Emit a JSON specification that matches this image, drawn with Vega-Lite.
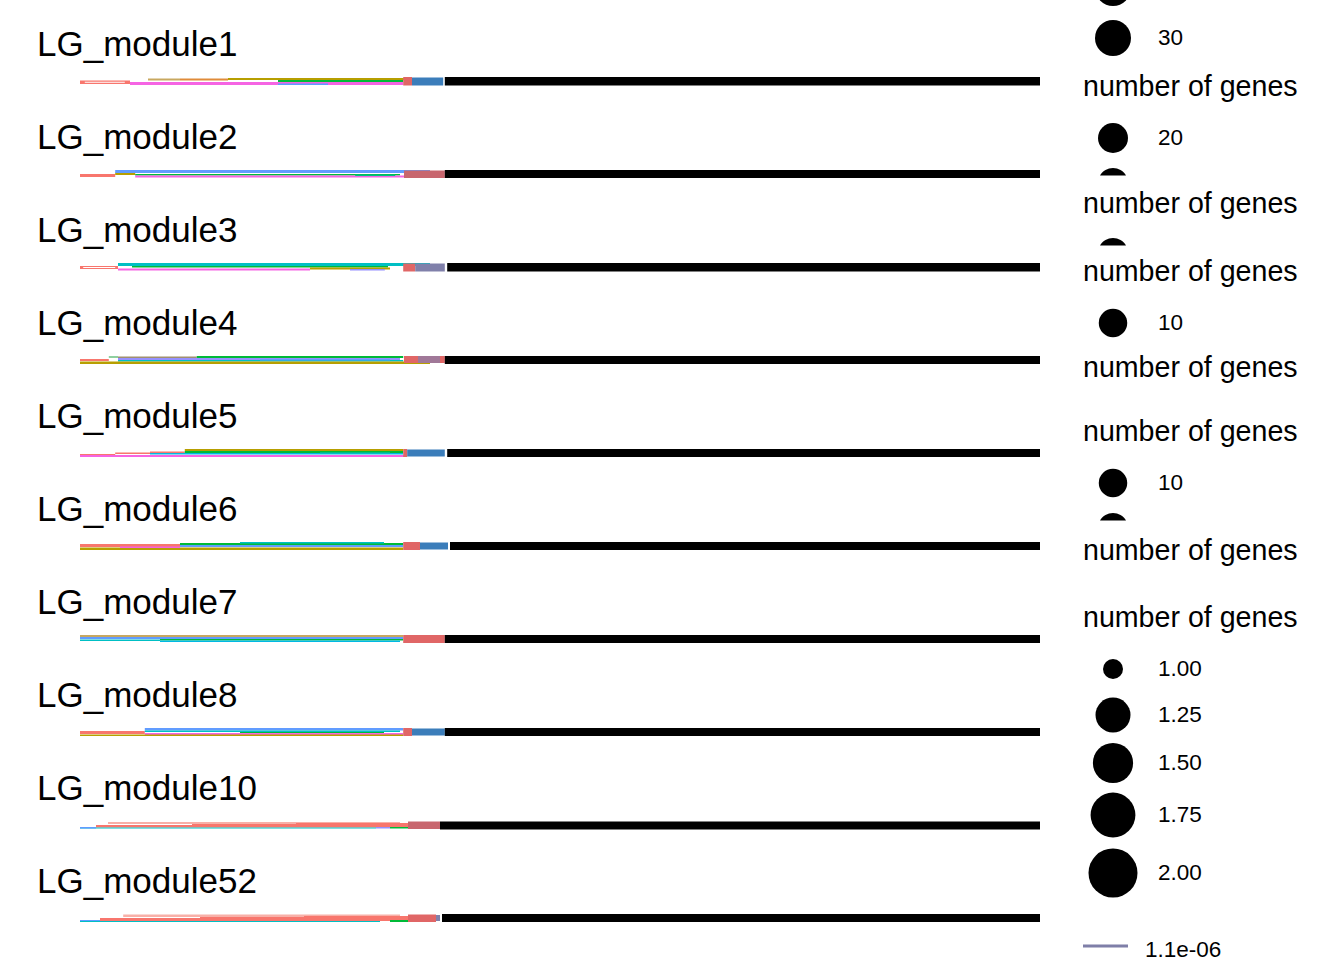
{
  "$schema": "https://vega.github.io/schema/vega-lite/v6.json",
  "padding": {"left": 37, "top": 0, "right": 0, "bottom": 0},
  "background": "white",
  "config": {
    "view": {"stroke": null},
    "font": "Liberation Sans",
    "text": {"font": "Liberation Sans"}
  },
  "datasets": {
    "strips": [
      {"m": "LG_module1", "a": 0, "b": 6.25, "t": 4.5, "u": 8, "g": "salmon"},
      {"m": "LG_module1", "a": 0.6, "b": 5.6, "t": 5.8, "u": 6.8, "g": "white"},
      {"m": "LG_module1", "a": 8.5, "b": 12.5, "t": 2.5, "u": 4.5, "g": "tan"},
      {"m": "LG_module1", "a": 12.5, "b": 18.5, "t": 2.5, "u": 4.5, "g": "orange"},
      {"m": "LG_module1", "a": 18.5, "b": 43.5, "t": 2, "u": 4, "g": "olive"},
      {"m": "LG_module1", "a": 24.75, "b": 40.4, "t": 4, "u": 6, "g": "green"},
      {"m": "LG_module1", "a": 6.25, "b": 40.4, "t": 6, "u": 9, "g": "magenta"},
      {"m": "LG_module1", "a": 24.75, "b": 31, "t": 7.5, "u": 9, "g": "blue"},
      {"m": "LG_module1", "a": 40.4, "b": 41.5, "t": 1, "u": 9.5, "g": "red"},
      {"m": "LG_module1", "a": 41.5, "b": 45.4, "t": 1.5, "u": 9.5, "g": "steel"},
      {"m": "LG_module1", "a": 45.6, "b": 120, "t": 1, "u": 9.5, "g": "black"},

      {"m": "LG_module2", "a": 0, "b": 4.4, "t": 5, "u": 8, "g": "salmon"},
      {"m": "LG_module2", "a": 4.4, "b": 6.9, "t": 3.5, "u": 6, "g": "olive"},
      {"m": "LG_module2", "a": 4.4, "b": 43.75, "t": 1, "u": 4, "g": "blue"},
      {"m": "LG_module2", "a": 6.9, "b": 40, "t": 5, "u": 6.5, "g": "green"},
      {"m": "LG_module2", "a": 6.9, "b": 40.5, "t": 6.5, "u": 8.5, "g": "magenta"},
      {"m": "LG_module2", "a": 34.4, "b": 39.4, "t": 5.5, "u": 7, "g": "tealgreen"},
      {"m": "LG_module2", "a": 40.5, "b": 45.6, "t": 1.5, "u": 9, "g": "mauve"},
      {"m": "LG_module2", "a": 45.6, "b": 120, "t": 1, "u": 9, "g": "black"},

      {"m": "LG_module3", "a": 0, "b": 4.75, "t": 4, "u": 7, "g": "salmon"},
      {"m": "LG_module3", "a": 0.4, "b": 4.4, "t": 5, "u": 6, "g": "white"},
      {"m": "LG_module3", "a": 4.75, "b": 43.75, "t": 1, "u": 4, "g": "teal"},
      {"m": "LG_module3", "a": 6.5, "b": 38.5, "t": 4, "u": 5.5, "g": "green"},
      {"m": "LG_module3", "a": 28.75, "b": 38.75, "t": 5.5, "u": 7.5, "g": "olive"},
      {"m": "LG_module3", "a": 33.75, "b": 38.1, "t": 7, "u": 8.5, "g": "lavender"},
      {"m": "LG_module3", "a": 4.75, "b": 28.75, "t": 6.5, "u": 8.5, "g": "magenta"},
      {"m": "LG_module3", "a": 40.4, "b": 41.9, "t": 1.5, "u": 9.5, "g": "red"},
      {"m": "LG_module3", "a": 41.9, "b": 45.6, "t": 1.5, "u": 9.5, "g": "slate"},
      {"m": "LG_module3", "a": 45.9, "b": 120, "t": 1, "u": 9.5, "g": "black"},

      {"m": "LG_module4", "a": 0, "b": 3.6, "t": 4, "u": 6, "g": "salmon"},
      {"m": "LG_module4", "a": 3.6, "b": 4.75, "t": 1, "u": 3, "g": "lightgreen"},
      {"m": "LG_module4", "a": 4.75, "b": 14.6, "t": 1.5, "u": 3, "g": "grayolive"},
      {"m": "LG_module4", "a": 14.6, "b": 40.4, "t": 1, "u": 3, "g": "green"},
      {"m": "LG_module4", "a": 4.75, "b": 40, "t": 3, "u": 5, "g": "lavender"},
      {"m": "LG_module4", "a": 4.75, "b": 40.4, "t": 5, "u": 6.5, "g": "teal"},
      {"m": "LG_module4", "a": 22.5, "b": 38.75, "t": 4, "u": 5.5, "g": "blue"},
      {"m": "LG_module4", "a": 0, "b": 43.75, "t": 6.5, "u": 9, "g": "olive"},
      {"m": "LG_module4", "a": 40.5, "b": 42.25, "t": 1, "u": 8, "g": "red"},
      {"m": "LG_module4", "a": 42.25, "b": 45, "t": 1, "u": 8, "g": "mauvepurple"},
      {"m": "LG_module4", "a": 45, "b": 45.6, "t": 1, "u": 8, "g": "red"},
      {"m": "LG_module4", "a": 45.6, "b": 120, "t": 1, "u": 9, "g": "black"},

      {"m": "LG_module5", "a": 0, "b": 4.4, "t": 6, "u": 7.5, "g": "salmon"},
      {"m": "LG_module5", "a": 4.4, "b": 8.75, "t": 4.5, "u": 6, "g": "salmon"},
      {"m": "LG_module5", "a": 8.75, "b": 13.1, "t": 3.5, "u": 5, "g": "salmon"},
      {"m": "LG_module5", "a": 13.1, "b": 40.4, "t": 1, "u": 3, "g": "olive"},
      {"m": "LG_module5", "a": 13.1, "b": 40.4, "t": 3, "u": 5, "g": "green"},
      {"m": "LG_module5", "a": 8.75, "b": 40.4, "t": 5, "u": 6.5, "g": "cyan"},
      {"m": "LG_module5", "a": 30, "b": 38.75, "t": 4.5, "u": 6, "g": "teal"},
      {"m": "LG_module5", "a": 0, "b": 40.6, "t": 7, "u": 9, "g": "magenta"},
      {"m": "LG_module5", "a": 40.4, "b": 40.9, "t": 1, "u": 9, "g": "red"},
      {"m": "LG_module5", "a": 40.9, "b": 45.6, "t": 1.5, "u": 8.5, "g": "steel"},
      {"m": "LG_module5", "a": 45.9, "b": 120, "t": 1, "u": 9, "g": "black"},

      {"m": "LG_module6", "a": 0, "b": 12.5, "t": 3, "u": 6, "g": "salmon"},
      {"m": "LG_module6", "a": 0, "b": 40.4, "t": 6.5, "u": 9, "g": "olive"},
      {"m": "LG_module6", "a": 12.5, "b": 40.4, "t": 2, "u": 4, "g": "green"},
      {"m": "LG_module6", "a": 12.5, "b": 40.4, "t": 4, "u": 6, "g": "blue"},
      {"m": "LG_module6", "a": 5, "b": 12.5, "t": 5.5, "u": 7, "g": "magenta"},
      {"m": "LG_module6", "a": 20, "b": 38, "t": 1, "u": 2.5, "g": "teal"},
      {"m": "LG_module6", "a": 40.4, "b": 42.5, "t": 1, "u": 9, "g": "red"},
      {"m": "LG_module6", "a": 42.5, "b": 46, "t": 1.5, "u": 8.5, "g": "steel"},
      {"m": "LG_module6", "a": 46.25, "b": 120, "t": 1, "u": 9, "g": "black"},

      {"m": "LG_module7", "a": 0, "b": 40.4, "t": 1, "u": 3, "g": "tan"},
      {"m": "LG_module7", "a": 0, "b": 40.4, "t": 3, "u": 5, "g": "blue"},
      {"m": "LG_module7", "a": 10, "b": 40.4, "t": 5, "u": 6.5, "g": "green"},
      {"m": "LG_module7", "a": 0, "b": 10, "t": 5.5, "u": 7, "g": "teal"},
      {"m": "LG_module7", "a": 10, "b": 40, "t": 6.5, "u": 8, "g": "cyan"},
      {"m": "LG_module7", "a": 40.4, "b": 45.6, "t": 1, "u": 9, "g": "red"},
      {"m": "LG_module7", "a": 45.6, "b": 120, "t": 1, "u": 9, "g": "black"},

      {"m": "LG_module8", "a": 0, "b": 8.1, "t": 4, "u": 7, "g": "salmon"},
      {"m": "LG_module8", "a": 8.1, "b": 40.4, "t": 6, "u": 8, "g": "magenta"},
      {"m": "LG_module8", "a": 8.1, "b": 40.4, "t": 1, "u": 3.5, "g": "blue"},
      {"m": "LG_module8", "a": 8.1, "b": 40, "t": 3.5, "u": 5, "g": "teal"},
      {"m": "LG_module8", "a": 20, "b": 38, "t": 5, "u": 6, "g": "green"},
      {"m": "LG_module8", "a": 0, "b": 40.4, "t": 7.5, "u": 9, "g": "olive"},
      {"m": "LG_module8", "a": 40.4, "b": 41.5, "t": 1, "u": 9, "g": "red"},
      {"m": "LG_module8", "a": 41.5, "b": 45.6, "t": 1.5, "u": 8.5, "g": "steel"},
      {"m": "LG_module8", "a": 45.6, "b": 120, "t": 1, "u": 9, "g": "black"},

      {"m": "LG_module10", "a": 3.5, "b": 40, "t": 2, "u": 4, "g": "lightsalmon"},
      {"m": "LG_module10", "a": 2, "b": 14, "t": 5, "u": 7.5, "g": "salmon"},
      {"m": "LG_module10", "a": 14, "b": 27, "t": 4, "u": 7.5, "g": "salmon"},
      {"m": "LG_module10", "a": 27, "b": 41, "t": 3, "u": 7.5, "g": "salmon"},
      {"m": "LG_module10", "a": 0, "b": 37, "t": 7.5, "u": 8.5, "g": "teal"},
      {"m": "LG_module10", "a": 0, "b": 2, "t": 7, "u": 8.5, "g": "blue"},
      {"m": "LG_module10", "a": 37, "b": 38.75, "t": 7, "u": 8.5, "g": "lavender"},
      {"m": "LG_module10", "a": 38.75, "b": 41, "t": 7, "u": 8.5, "g": "green"},
      {"m": "LG_module10", "a": 41, "b": 45, "t": 1.5, "u": 9, "g": "mauve"},
      {"m": "LG_module10", "a": 45, "b": 120, "t": 1.5, "u": 9.5, "g": "black"},

      {"m": "LG_module52", "a": 5.4, "b": 40, "t": 1.5, "u": 4, "g": "lightsalmon"},
      {"m": "LG_module52", "a": 2.5, "b": 15, "t": 5, "u": 8, "g": "salmon"},
      {"m": "LG_module52", "a": 15, "b": 28, "t": 4, "u": 8, "g": "salmon"},
      {"m": "LG_module52", "a": 28, "b": 41, "t": 3, "u": 8, "g": "salmon"},
      {"m": "LG_module52", "a": 0, "b": 2.5, "t": 7, "u": 8.5, "g": "blue"},
      {"m": "LG_module52", "a": 0, "b": 37.5, "t": 8, "u": 9, "g": "teal"},
      {"m": "LG_module52", "a": 38.75, "b": 41, "t": 7, "u": 9, "g": "green"},
      {"m": "LG_module52", "a": 41, "b": 44.5, "t": 1.5, "u": 9, "g": "red"},
      {"m": "LG_module52", "a": 44.5, "b": 45, "t": 2, "u": 8, "g": "slate"},
      {"m": "LG_module52", "a": 45.25, "b": 120, "t": 1, "u": 9, "g": "black"}
    ],
    "legend": [
      {"kind": "title", "text": "number of genes", "pos": 87},
      {"kind": "title", "text": "number of genes", "pos": 204},
      {"kind": "title", "text": "number of genes", "pos": 272},
      {"kind": "title", "text": "number of genes", "pos": 368},
      {"kind": "title", "text": "number of genes", "pos": 432},
      {"kind": "title", "text": "number of genes", "pos": 551},
      {"kind": "title", "text": "number of genes", "pos": 618},
      {"kind": "keyA", "genes": 30, "pos": -12},
      {"kind": "keyA", "genes": 30, "text": "30", "pos": 38},
      {"kind": "keyA", "genes": 20, "text": "20", "pos": 138},
      {"kind": "keyA", "genes": 10, "text": "10", "pos": 323},
      {"kind": "keyA", "genes": 10, "text": "10", "pos": 483},
      {"kind": "cap", "pos": 183},
      {"kind": "cap", "pos": 253},
      {"kind": "cap", "pos": 528},
      {"kind": "keyB", "genes": 1.0, "text": "1.00", "pos": 669},
      {"kind": "keyB", "genes": 1.25, "text": "1.25", "pos": 715},
      {"kind": "keyB", "genes": 1.5, "text": "1.50", "pos": 763},
      {"kind": "keyB", "genes": 1.75, "text": "1.75", "pos": 815},
      {"kind": "keyB", "genes": 2.0, "text": "2.00", "pos": 873},
      {"kind": "line", "text": "1.1e-06", "pos": 946}
    ]
  },
  "hconcat": [
    {
      "data": {"name": "strips"},
      "facet": {
        "row": {
          "field": "m",
          "type": "nominal",
          "title": null,
          "header": null,
          "sort": ["LG_module1", "LG_module2", "LG_module3", "LG_module4", "LG_module5", "LG_module6", "LG_module7", "LG_module8", "LG_module10", "LG_module52"]
        }
      },
      "spacing": {"row": 0},
      "spec": {
        "width": 1003,
        "height": 92.2,
        "layer": [
          {
            "mark": {"type": "rect"},
            "encoding": {
              "x": {"field": "a", "type": "quantitative", "scale": {"domain": [-5.375, 120], "nice": false, "zero": false}, "axis": null},
              "x2": {"field": "b"},
              "y": {"field": "t", "type": "quantitative", "scale": {"domain": [-76, 16.2], "reverse": true, "nice": false, "zero": false}, "axis": null},
              "y2": {"field": "u"},
              "color": {
                "field": "g",
                "type": "nominal",
                "legend": null,
                "scale": {
                  "domain": ["salmon", "white", "tan", "orange", "olive", "green", "magenta", "blue", "red", "steel", "black", "mauve", "teal", "lavender", "slate", "lightgreen", "grayolive", "cyan", "tealgreen", "lightsalmon", "mauvepurple"],
                  "range": ["#F8766D", "#FFFFFF", "#C8A860", "#E08B3A", "#B79F00", "#00BA38", "#F564E3", "#619CFF", "#E06666", "#3B7DBA", "#000000", "#C8666E", "#00BFC4", "#9590FF", "#8080AA", "#8FD0A0", "#A09070", "#00B9E3", "#00BF7D", "#F8B0A8", "#A07898"]
                }
              }
            }
          },
          {
            "transform": [{"aggregate": [{"op": "count", "as": "n"}], "groupby": ["m"]}],
            "mark": {"type": "text", "fontSize": 35, "align": "left", "baseline": "alphabetic", "color": "black", "font": "Liberation Sans"},
            "encoding": {
              "x": {"datum": -5.375, "type": "quantitative"},
              "y": {"datum": -20, "type": "quantitative"},
              "text": {"field": "m"}
            }
          }
        ]
      }
    },
    {
      "data": {"name": "legend"},
      "width": 260,
      "height": 960,
      "layer": [
        {
          "transform": [{"filter": "datum.kind === 'title'"}],
          "mark": {"type": "text", "fontSize": 28.6, "align": "left", "baseline": "middle", "color": "black", "font": "Liberation Sans"},
          "encoding": {
            "x": {"datum": 0, "type": "quantitative", "scale": {"domain": [0, 26], "nice": false, "zero": false}, "axis": null},
            "y": {"field": "pos", "type": "quantitative", "scale": {"domain": [0, 960], "reverse": true, "nice": false, "zero": false}, "axis": null},
            "text": {"field": "text"}
          }
        },
        {
          "transform": [{"filter": "(datum.kind === 'keyA' || datum.kind === 'keyB') && datum.text"}],
          "mark": {"type": "text", "fontSize": 22.5, "align": "left", "baseline": "middle", "color": "black", "font": "Liberation Sans"},
          "encoding": {
            "x": {"datum": 7.5, "type": "quantitative"},
            "y": {"field": "pos", "type": "quantitative"},
            "text": {"field": "text"}
          }
        },
        {
          "transform": [{"filter": "datum.kind === 'keyA'"}],
          "mark": {"type": "point", "shape": "circle", "filled": true, "color": "black", "opacity": 1, "clip": true},
          "encoding": {
            "x": {"datum": 3, "type": "quantitative"},
            "y": {"field": "pos", "type": "quantitative"},
            "size": {"field": "genes", "type": "quantitative", "legend": null, "scale": {"domain": [10, 20, 30], "range": [810, 900, 1296]}}
          }
        },
        {
          "transform": [{"filter": "datum.kind === 'keyB'"}],
          "mark": {"type": "point", "shape": "circle", "filled": true, "color": "black", "opacity": 1},
          "encoding": {
            "x": {"datum": 3, "type": "quantitative"},
            "y": {"field": "pos", "type": "quantitative"},
            "size": {"field": "genes", "type": "quantitative", "legend": null, "scale": {"domain": [1, 1.25, 2], "range": [400, 1225, 2401]}}
          }
        },
        {
          "transform": [{"filter": "datum.kind === 'cap'"}],
          "mark": {"type": "point", "shape": "M -0.866 -0.5 A 1 1 0 0 1 0.866 -0.5 Z", "filled": true, "color": "black", "opacity": 1, "size": 900},
          "encoding": {
            "x": {"datum": 3, "type": "quantitative"},
            "y": {"field": "pos", "type": "quantitative"}
          }
        },
        {
          "transform": [{"filter": "datum.kind === 'line'"}],
          "mark": {"type": "rule", "color": "#7F7FA8", "strokeWidth": 3},
          "encoding": {
            "x": {"datum": 0, "type": "quantitative"},
            "x2": {"datum": 4.5},
            "y": {"field": "pos", "type": "quantitative"}
          }
        },
        {
          "transform": [{"filter": "datum.kind === 'line'"}],
          "mark": {"type": "text", "fontSize": 22.5, "align": "left", "baseline": "middle", "color": "black", "font": "Liberation Sans", "dy": 4},
          "encoding": {
            "x": {"datum": 6.2, "type": "quantitative"},
            "y": {"field": "pos", "type": "quantitative"},
            "text": {"field": "text"}
          }
        }
      ],
      "resolve": {"scale": {"size": "independent"}}
    }
  ],
  "spacing": 41
}
